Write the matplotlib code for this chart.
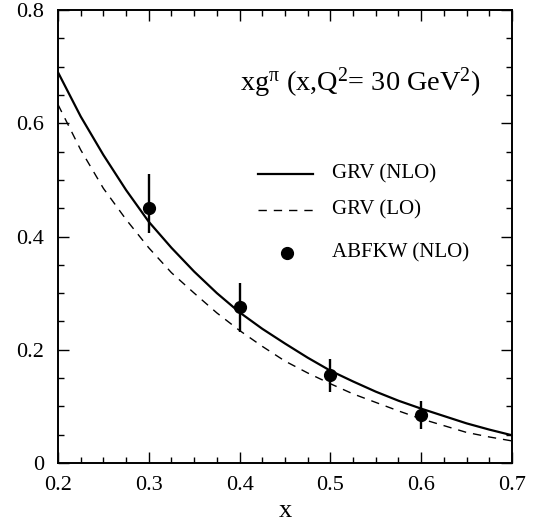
import matplotlib
matplotlib.use('Agg')
import matplotlib.pyplot as plt
from matplotlib.ticker import MultipleLocator, FuncFormatter

plt.rcParams['font.family'] = ['Liberation Serif', 'DejaVu Serif']
plt.rcParams['mathtext.fontset'] = 'custom'
plt.rcParams['mathtext.rm'] = 'Liberation Serif'
plt.rcParams['mathtext.it'] = 'Liberation Serif:italic'

### data ###

# GRV curves, read every 0.025 in x
x_curve = [0.2, 0.225, 0.25, 0.275, 0.3, 0.325, 0.35, 0.375, 0.4, 0.425, 0.45,
           0.475, 0.5, 0.525, 0.55, 0.575, 0.6, 0.625, 0.65, 0.675, 0.7]
grv_nlo = [0.690, 0.612, 0.544, 0.482, 0.426, 0.380, 0.338, 0.300, 0.266, 0.237, 0.211,
           0.186, 0.163, 0.144, 0.126, 0.110, 0.096, 0.083, 0.070, 0.059, 0.049]
grv_lo = [0.633, 0.553, 0.485, 0.430, 0.380, 0.336, 0.300, 0.265, 0.234, 0.206, 0.180,
          0.159, 0.140, 0.122, 0.107, 0.092, 0.078, 0.066, 0.054, 0.046, 0.039]

# ABFKW points
x_pts = [0.3, 0.4, 0.5, 0.6]
y_pts = [0.451, 0.275, 0.155, 0.084]
err_lo = [0.044, 0.043, 0.029, 0.024]
err_hi = [0.059, 0.043, 0.028, 0.025]

fig = plt.figure(figsize=(5.35, 5.21), dpi=100)
ax = fig.add_axes([0.1084, 0.1113, 0.8486, 0.8695])

ax.plot(x_curve, grv_nlo, color='black', lw=1.6)
ax.plot(x_curve, grv_lo, color='black', lw=1.0, dashes=(6, 5))
ax.errorbar(x_pts, y_pts, yerr=[err_lo, err_hi], fmt='o', color='black',
            ms=8.5, elinewidth=1.7, capsize=0)

ax.set_xlim(0.2, 0.7)
ax.set_ylim(0, 0.8)
ax.xaxis.set_major_locator(MultipleLocator(0.1))
ax.xaxis.set_minor_locator(MultipleLocator(0.025))
ax.yaxis.set_major_locator(MultipleLocator(0.2))
ax.yaxis.set_minor_locator(MultipleLocator(0.05))
fmt = FuncFormatter(lambda v, p: '%g' % round(v, 3))
ax.xaxis.set_major_formatter(fmt)
ax.yaxis.set_major_formatter(fmt)
ax.tick_params(which='both', direction='in', top=True, right=True, width=1.0)
ax.tick_params(which='major', length=8, labelsize=16)
ax.tick_params(axis='x', which='major', pad=9)
ax.tick_params(axis='y', which='major', pad=10)
ax.tick_params(which='minor', length=4)
for s in ax.spines.values():
    s.set_linewidth(1.4)

ax.set_xlabel('x', fontsize=19, labelpad=4)

# title inside the frame
ax.text(0.401, 0.823, r'xg$^{\mathrm{\pi}}$ (x,Q$^2$= 30 GeV$^2$)',
        transform=ax.transAxes, fontsize=20.3, va='baseline', ha='left')

# hand-made legend
ax.plot([0.4405, 0.5617], [0.638, 0.638], color='black', lw=1.6, transform=ax.transAxes)
ax.plot([0.4405, 0.5617], [0.5585, 0.5585], color='black', lw=1.0, dashes=(6, 5),
        transform=ax.transAxes)
ax.plot([0.504], [0.4636], 'o', color='black', ms=8.5, transform=ax.transAxes)
ax.text(0.6035, 0.638, 'GRV (NLO)', transform=ax.transAxes, fontsize=15, va='center')
ax.text(0.6035, 0.5585, 'GRV (LO)', transform=ax.transAxes, fontsize=15, va='center')
ax.text(0.6035, 0.4636, 'ABFKW (NLO)', transform=ax.transAxes, fontsize=15, va='center')

fig.savefig('out.png', dpi=100)
